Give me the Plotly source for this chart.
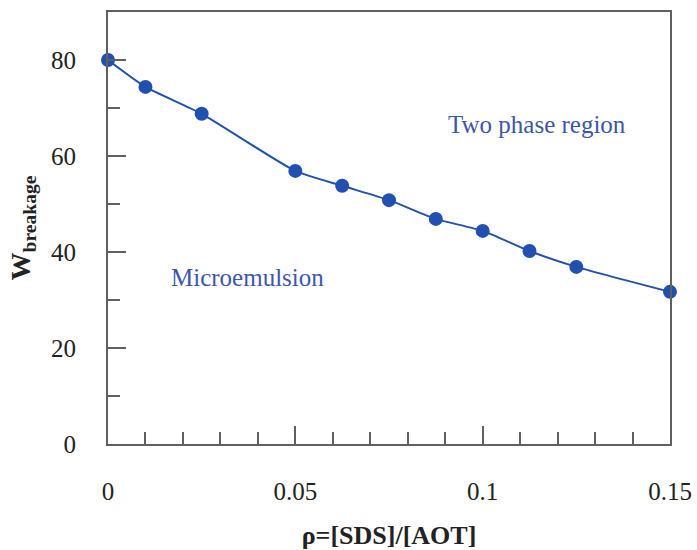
import plotly.graph_objects as go

# SDS/AOT molar ratio and the breakage water content
rho = [0, 0.01, 0.025, 0.05, 0.0625, 0.075, 0.0875, 0.1, 0.1125, 0.125, 0.15]
w_breakage = [80, 74.4, 68.8, 56.9, 53.8, 50.8, 46.9, 44.4, 40.2, 36.9, 31.7]

x_ticks = [0, 0.05, 0.1, 0.15]
x_tick_text = ["0", "0.05", "0.1", "0.15"]
y_ticks = [0, 20, 40, 60, 80]

blue = "#2150b0"
text_blue = "#3d57aa"
frame = "#606060"
serif = "Liberation Serif, DejaVu Serif, serif"

fig = go.Figure()
fig.add_trace(go.Scatter(
    x=rho, y=w_breakage, mode="lines+markers",
    line=dict(color=blue, width=2, shape="spline", smoothing=0.6),
    marker=dict(color=blue, size=14),
    cliponaxis=False, showlegend=False,
))

fig.add_annotation(x=0.1145, y=66.6, text="Two phase region", showarrow=False,
                   font=dict(family=serif, size=25, color=text_blue))
fig.add_annotation(x=0.0372, y=34.6, text="Microemulsion", showarrow=False,
                   font=dict(family=serif, size=25, color=text_blue))

fig.update_layout(
    width=697, height=550,
    margin=dict(l=108, r=27, t=12, b=106),
    paper_bgcolor="white", plot_bgcolor="white",
    font=dict(family=serif, size=25, color="#222"),
    xaxis=dict(
        range=[0, 0.15], tickvals=x_ticks, ticktext=x_tick_text,
        automargin=False,
        ticks="inside", ticklen=18, tickwidth=2, tickcolor=frame,
        ticklabelstandoff=24,
        minor=dict(dtick=0.01, ticks="inside", ticklen=12, tickwidth=2, tickcolor=frame),
        showline=True, linecolor=frame, linewidth=2, mirror=True,
        showgrid=False, zeroline=False,
        title=dict(text="<b>ρ=[SDS]/[AOT]</b>", font=dict(family=serif, size=26), standoff=28),
    ),
    yaxis=dict(
        range=[0, 90], tickvals=y_ticks,
        automargin=False,
        ticks="inside", ticklen=18, tickwidth=2, tickcolor=frame,
        ticklabelstandoff=25,
        minor=dict(dtick=10, ticks="inside", ticklen=12, tickwidth=2, tickcolor=frame),
        showline=True, linecolor=frame, linewidth=2, mirror=True,
        showgrid=False, zeroline=False,
        title=dict(text="<b>W<sub>breakage</sub></b>", font=dict(family=serif, size=28), standoff=12),
    ),
)

fig.write_html("out.html")
